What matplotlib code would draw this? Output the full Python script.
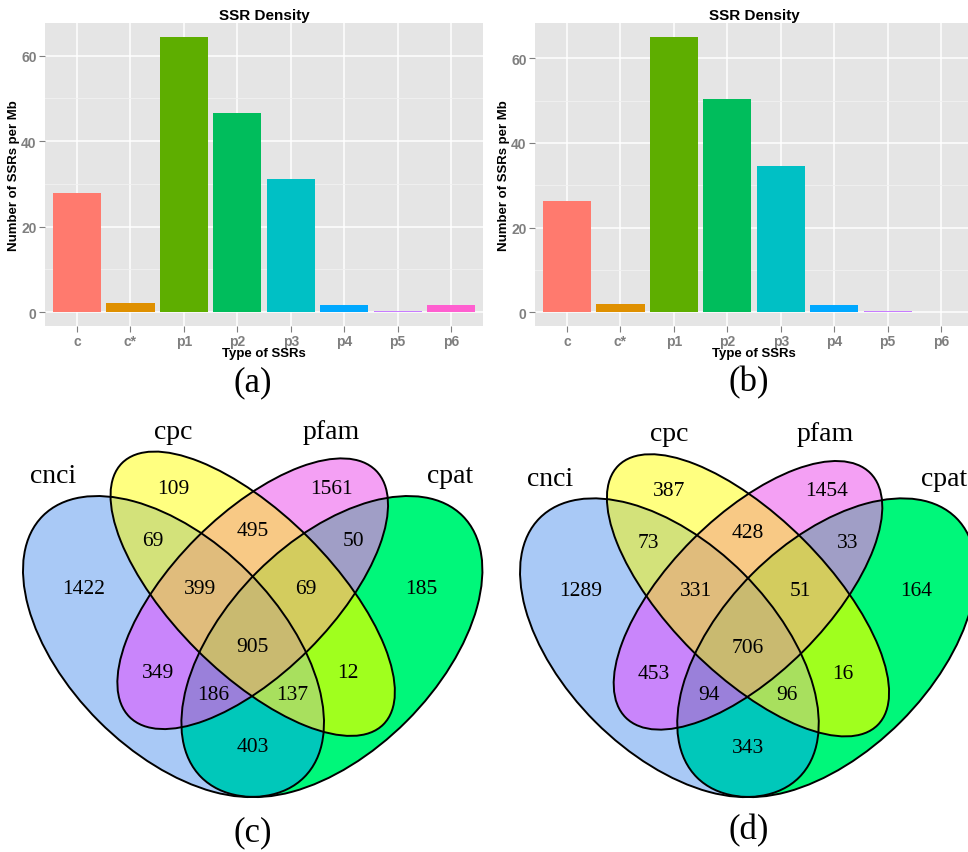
#!/usr/bin/env python3
"""
SSR density bar charts (a, b) and 4-set Venn diagrams of coding-potential tools (c, d).
"""

import numpy as np
import matplotlib
matplotlib.use('Agg')
import matplotlib.pyplot as plt
from matplotlib.patches import Ellipse, Polygon

# ---------------- data ----------------
ssr_types = ['c', 'c*', 'p1', 'p2', 'p3', 'p4', 'p5', 'p6']
ssr_density_a = [27.8, 2.1, 64.4, 46.6, 31.1, 1.6, 0.2, 1.6]
ssr_density_b = [26.3, 2.0, 65.1, 50.5, 34.6, 1.8, 0.35, 0.15]

set_names = ['cnci', 'cpc', 'pfam', 'cpat']
# region = indices of the sets a count belongs to (0=cnci, 1=cpc, 2=pfam, 3=cpat)
regions = [(1,), (1, 2), (2,), (0, 1), (0, 1, 2), (0, 1, 2, 3), (1, 2, 3), (2, 3),
           (0,), (0, 2), (0, 2, 3), (0, 3), (0, 1, 3), (1, 3), (3,)]
counts_c = [109, 495, 1561, 69, 399, 905, 69, 50, 1422, 349, 186, 403, 137, 12, 185]
counts_d = [387, 428, 1454, 73, 331, 706, 51, 33, 1289, 453, 94, 343, 96, 16, 164]

# ---------------- styles / layout ----------------
W, H = 968, 853
bar_colors = ['#FF7A6E', '#DF9000', '#5EAE00', '#00BD5C', '#00C0C5', '#00A8FF', '#C77CFF', '#FF5FD0']

# VennDiagram quad layout (unit square): centre x, y, semi-axes a, b, angle
ellipses = [(0.35, 0.47, 0.35, 0.20, 135),   # cnci
            (0.50, 0.57, 0.35, 0.15, 135),   # cpc
            (0.50, 0.57, 0.33, 0.15, 45),    # pfam
            (0.65, 0.47, 0.35, 0.20, 45)]    # cpat
count_pos = [(0.35, 0.77), (0.5, 0.69), (0.65, 0.77), (0.31, 0.67), (0.4, 0.58),
             (0.5, 0.47), (0.6, 0.58), (0.69, 0.67), (0.18, 0.58), (0.32, 0.42),
             (0.425, 0.38), (0.5, 0.28), (0.575, 0.38), (0.68, 0.42), (0.82, 0.58)]
name_pos = [(0.122, 0.793), (0.349, 0.878), (0.648, 0.878), (0.874, 0.793)]
region_colors = {
    (0,): '#A9C9F6', (1,): '#FFFF80', (2,): '#F4A0F4', (3,): '#00F77A',
    (0, 1): '#D3E27A', (1, 2): '#F8C985', (2, 3): '#A09EC6', (0, 2): '#C985FB',
    (1, 3): '#A0FF1E', (0, 3): '#00C8BA',
    (0, 1, 2): '#E0BC7C', (1, 2, 3): '#D3CC5E', (0, 2, 3): '#9A80DA', (0, 1, 3): '#A8E05E',
    (0, 1, 2, 3): '#C9BA70',
}

SANS = 'Liberation Sans'
SERIF = 'Liberation Serif'


def px_axes(fig, left, top, right, bottom):
    """Add axes given in pixel coordinates (origin top-left)."""
    return fig.add_axes([left / W, 1 - bottom / H, (right - left) / W, (bottom - top) / H])


def bar_panel(ax, values):
    x = np.arange(1, len(values) + 1)
    ax.set_facecolor('#E5E5E5')
    for s in ax.spines.values():
        s.set_visible(False)
    ax.set_axisbelow(True)
    ax.bar(x, values, width=0.9, color=bar_colors, zorder=3)
    ax.set_xlim(0.4, len(values) + 0.6)
    ax.set_ylim(-0.05 * max(values), 1.05 * max(values))
    ax.set_xticks(x)
    ax.set_xticklabels(ssr_types)
    ax.set_yticks([0, 20, 40, 60])
    ax.set_yticks([10, 30, 50], minor=True)
    ax.grid(which='major', color='white', linewidth=1.1)
    ax.grid(which='minor', axis='y', color='#F2F2F2', linewidth=0.6)
    ax.tick_params(which='major', color='#7F7F7F', length=4, width=0.8, pad=2,
                   labelcolor='#7F7F7F', labelsize=10)
    ax.tick_params(which='minor', length=0)
    for lab in ax.get_xticklabels() + ax.get_yticklabels():
        lab.set_fontfamily(SANS)
        lab.set_fontweight('bold')
    ax.set_title('SSR Density', fontsize=11, fontweight='bold', family=SANS, pad=3)
    ax.set_xlabel('Type of SSRs', fontsize=9.5, fontweight='bold', family=SANS, labelpad=-1)
    ax.set_ylabel('Number of SSRs per Mb', fontsize=9.5, fontweight='bold', family=SANS)
    ax.yaxis.set_label_coords(-0.057, 0.5)


def ellipse_poly(cx, cy, a, b, ang, n=240):
    t = np.linspace(0, 2 * np.pi, n, endpoint=False)
    th = np.radians(ang)
    xs = cx + a * np.cos(t) * np.cos(th) - b * np.sin(t) * np.sin(th)
    ys = cy + a * np.cos(t) * np.sin(th) + b * np.sin(t) * np.cos(th)
    return list(zip(xs, ys))


def side(a, b, p):
    return (b[0] - a[0]) * (p[1] - a[1]) - (b[1] - a[1]) * (p[0] - a[0])


def clip_poly(subject, clipper):
    """Sutherland-Hodgman: intersection of a polygon with a convex CCW polygon."""
    out = list(subject)
    for i in range(len(clipper)):
        a, b = clipper[i - 1], clipper[i]
        inp, out = out, []
        if not inp:
            break
        s = inp[-1]
        for e in inp:
            ds, de = side(a, b, s), side(a, b, e)
            if de >= 0:
                if ds < 0:
                    t = ds / (ds - de)
                    out.append((s[0] + t * (e[0] - s[0]), s[1] + t * (e[1] - s[1])))
                out.append(e)
            elif ds >= 0:
                t = ds / (ds - de)
                out.append((s[0] + t * (e[0] - s[0]), s[1] + t * (e[1] - s[1])))
            s = e
    return out


def venn_panel(ax, counts):
    ax.set_xlim(0, 1)
    ax.set_ylim(0, 1)
    ax.axis('off')
    polys = [ellipse_poly(*e) for e in ellipses]
    # paint regions from single sets up to the 4-way intersection
    for k in range(1, 5):
        for reg in regions:
            if len(reg) != k:
                continue
            poly = polys[reg[0]]
            for j in reg[1:]:
                poly = clip_poly(poly, polys[j])
            ax.add_patch(Polygon(poly, closed=True, facecolor=region_colors[reg],
                                 edgecolor='none', zorder=1))
    for cx, cy, a, b, ang in ellipses:
        ax.add_patch(Ellipse((cx, cy), 2 * a, 2 * b, angle=ang, fill=False,
                             edgecolor='black', linewidth=1.4, zorder=2))
    for (x, y), n in zip(count_pos, counts):
        ax.text(x, y, str(n), ha='center', va='center', fontsize=15.5, family=SERIF, zorder=3)
    for (x, y), name in zip(name_pos, set_names):
        ax.text(x, y, name, ha='center', va='center', fontsize=20, family=SERIF, zorder=3)


fig = plt.figure(figsize=(W / 100, H / 100), dpi=100)

ax_a = px_axes(fig, 45, 24, 483, 327)
bar_panel(ax_a, ssr_density_a)
ax_b = px_axes(fig, 535, 24, 973, 327)
bar_panel(ax_b, ssr_density_b)

# unit square of each Venn panel mapped onto pixels
ax_c = px_axes(fig, -11.3, 895.7 - 528, -11.3 + 528, 895.7)
venn_panel(ax_c, counts_c)
ax_d = px_axes(fig, 486, 895 - 524, 486 + 524, 895)
venn_panel(ax_d, counts_d)

for label, (x, y) in zip(['(a)', '(b)', '(c)', '(d)'],
                         [(253, 383), (749, 383), (253, 833), (749, 831)]):
    fig.text(x / W, 1 - y / H, label, ha='center', va='center', fontsize=25, family=SERIF)

fig.savefig('out.png', dpi=100)
plt.close(fig)
